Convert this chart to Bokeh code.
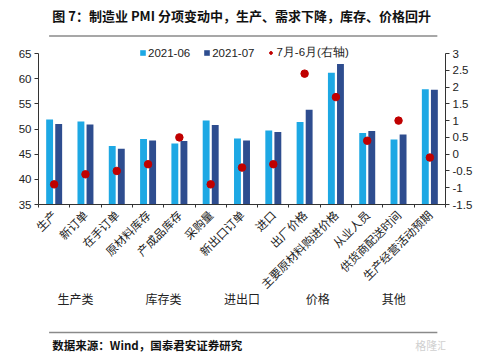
import math
from bokeh.plotting import figure
from bokeh.layouts import column
from bokeh.models import (ColumnDataSource, Range1d, LinearAxis, FixedTicker,
                          Legend, LegendItem, NumeralTickFormatter)
from bokeh.core.properties import value
from bokeh.embed import file_html
from bokeh.resources import INLINE

# ---------------- data ----------------
categories = ["生产", "新订单", "在手订单", "原材料库存", "产成品库存", "采购量", "新出口订单",
              "进口", "出厂价格", "主要原材料购进价格", "从业人员", "供货商配送时间", "生产经营活动预期"]
pmi_2021_06 = [51.9, 51.5, 46.6, 48.0, 47.1, 51.7, 48.1, 49.7, 51.4, 61.2, 49.2, 47.9, 57.9]
pmi_2021_07 = [51.0, 50.9, 46.1, 47.7, 47.6, 50.8, 47.7, 49.4, 53.8, 62.9, 49.6, 48.9, 57.8]
change_jul_jun = [-0.9, -0.6, -0.5, -0.3, 0.5, -0.9, -0.4, -0.3, 2.4, 1.7, 0.4, 1.0, -0.1]
groups = ["生产类", "库存类", "进出口", "价格", "其他"]
group_pos = [1.18, 3.99, 6.50, 8.92, 11.35]   # label positions along the category axis
left_ticks = [35, 40, 45, 50, 55, 60, 65]
right_ticks = [-1.5, -1, -0.5, 0, 0.5, 1, 1.5, 2, 2.5, 3]

title_text = "图 7：制造业 PMI 分项变动中，生产、需求下降，库存、价格回升"
source_text = "数据来源：Wind，国泰君安证券研究"
watermark = "格隆汇"

# ---------------- styles ----------------
C_JUN = "#1DA8E4"
C_JUL = "#2E4D8F"
C_DOT = "#C00000"
AX = "#333333"
RULE = "#8a8a8a"
CJK = "Noto Sans CJK SC"
LAT = "Liberation Sans"
W = 499
AXIS_PX = 151          # pixel length of the 35..65 axis
HEAD_PX = 8            # empty frame space above the axes (room for the legend)


def blank(height, ymax):
    f = figure(width=W, height=height, output_backend="svg", toolbar_location=None,
               x_range=Range1d(0, W), y_range=Range1d(ymax, 0),
               x_axis_type=None, y_axis_type=None, min_border=0,
               background_fill_color="white", border_fill_color="white")
    f.outline_line_color = None
    f.grid.visible = False
    return f


# ---------------- header ----------------
top = blank(45, 45)
top.text(x=[17], y=[15], text=[title_text], text_font=value(CJK), text_font_style="bold",
         text_font_size=value("13px"), text_baseline="middle", text_color="#111111")
top.segment(x0=[13], y0=[35.5], x1=[489], y1=[35.5], line_color=RULE, line_width=1.5)

# ---------------- main chart ----------------
n = len(categories)
centers = [i + 0.5 for i in range(n)]
off = 0.145
src = ColumnDataSource(dict(
    xc=centers,
    xj=[c - off for c in centers],
    xl=[c + off for c in centers],
    jun=pmi_2021_06, jul=pmi_2021_07, diff=change_jul_jun))

l0, l1 = left_ticks[0], left_ticks[-1]
r0, r1 = right_ticks[0], right_ticks[-1]
pad_l = HEAD_PX * (l1 - l0) / AXIS_PX
pad_r = HEAD_PX * (r1 - r0) / AXIS_PX

p = figure(width=W, height=280, output_backend="svg", toolbar_location=None,
           x_range=Range1d(0, n), y_range=Range1d(l0, l1 + pad_l),
           min_border_left=38, min_border_right=54, min_border_top=0, min_border_bottom=121,
           background_fill_color="white", border_fill_color="white")
p.outline_line_color = None
p.grid.visible = False
p.extra_y_ranges = {"right": Range1d(r0, r1 + pad_r)}

r_jun = p.vbar(x="xj", top="jun", bottom=l0, width=0.22, fill_color=C_JUN,
               line_color=None, source=src)
r_jul = p.vbar(x="xl", top="jul", bottom=l0, width=0.22, fill_color=C_JUL,
               line_color=None, source=src)
r_dot = p.scatter(x="xc", y="diff", y_range_name="right", size=7.5, fill_color=C_DOT,
                  line_color=C_DOT, source=src)


def style_y(ax):
    ax.major_label_text_font = LAT
    ax.major_label_text_font_size = "11.5px"
    ax.major_label_text_color = "#222222"
    ax.axis_line_color = AX
    ax.major_tick_line_color = AX
    ax.major_tick_in = 0
    ax.major_tick_out = 4
    ax.minor_tick_line_color = None
    ax.major_label_standoff = 3


la = p.yaxis[0]
la.ticker = FixedTicker(ticks=left_ticks)
la.bounds = (l0, l1)
style_y(la)

ra = LinearAxis(y_range_name="right", ticker=FixedTicker(ticks=right_ticks),
                formatter=NumeralTickFormatter(format="0.[0]"), bounds=(r0, r1))
style_y(ra)
p.add_layout(ra, "right")

# category axis: labels at centres, short ticks on the boundaries
xa = p.xaxis[0]
xa.ticker = FixedTicker(ticks=centers, minor_ticks=list(range(n + 1)))
xa.major_label_overrides = {c: name for c, name in zip(centers, categories)}
xa.major_label_orientation = math.pi / 4
xa.major_label_text_font = CJK
xa.major_label_text_font_size = "11.5px"
xa.major_label_text_color = "#222222"
xa.major_label_standoff = 5
xa.axis_line_color = AX
xa.major_tick_line_color = None
xa.major_tick_in = 0
xa.major_tick_out = 0
xa.minor_tick_line_color = AX
xa.minor_tick_in = 0
xa.minor_tick_out = 3

# group axis below the category labels
ga = LinearAxis(ticker=FixedTicker(ticks=group_pos, minor_ticks=[]))
ga.major_label_overrides = {g: t for g, t in zip(group_pos, groups)}
ga.major_label_text_font = CJK
ga.major_label_text_font_size = "12px"
ga.major_label_text_color = "#222222"
ga.major_label_standoff = -16
ga.axis_line_color = None
ga.major_tick_line_color = None
ga.minor_tick_line_color = None
p.add_layout(ga, "below")

legend = Legend(items=[LegendItem(label="2021-06", renderers=[r_jun]),
                       LegendItem(label="2021-07", renderers=[r_jul]),
                       LegendItem(label="7月-6月(右轴)", renderers=[r_dot])],
                orientation="horizontal", location=(101, 144),
                glyph_width=7, glyph_height=7, label_standoff=2, spacing=13,
                padding=0, margin=0, border_line_color=None, background_fill_alpha=0,
                label_text_font=LAT, label_text_font_size="11.5px",
                label_text_color="#222222", label_height=12)
p.add_layout(legend, "center")

# ---------------- footer ----------------
bot = blank(30, 30)
bot.segment(x0=[13], y0=[7], x1=[489], y1=[7], line_color=RULE, line_width=1.5)
bot.text(x=[17], y=[19], text=[source_text], text_font=value(CJK), text_font_style="bold",
         text_font_size=value("11.5px"), text_baseline="middle", text_color="#111111")
bot.text(x=[462], y=[19], text=[watermark], text_font=value(CJK),
         text_font_size=value("11px"), text_baseline="middle", text_color="#d0d0d0")

layout = column(top, p, bot, spacing=0)
open("out.html", "w").write(file_html(layout, INLINE))
